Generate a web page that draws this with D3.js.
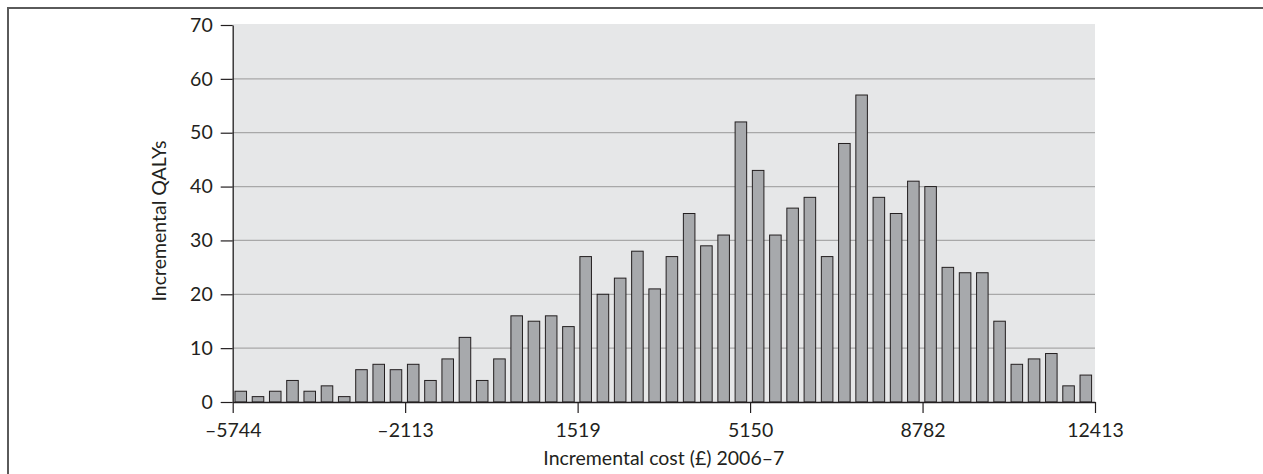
<!DOCTYPE html>
<html><head><meta charset="utf-8">
<script src="https://cdn.jsdelivr.net/npm/d3@7"></script>
<style>html,body{margin:0;padding:0;background:#fff;}svg{display:block;}</style>
</head><body>
<svg id="chart" width="1263" height="474"></svg>
<script>
const values = [2,1,2,4,2,3,1,6,7,6,7,4,8,12,4,8,16,15,16,14,27,20,23,28,21,27,35,29,31,52,43,31,36,38,27,48,57,38,35,41,40,25,24,24,15,7,8,9,3,5];
const bins = d3.range(values.length);
const xTickValues = [-5744,-2113,1519,5150,8782,12413];
const yTickValues = [0,10,20,30,40,50,60,70];
const xTitle = "Incremental cost (£) 2006–7";
const yTitle = "Incremental QALYs";

const W = 1263, H = 474;
const m = {left: 232.7, right: 168, top: 25, bottom: 72};
const svg = d3.select("#chart");
const font = "Lato, 'Open Sans', sans-serif";
const fs = 19.5;

// frame
svg.append("line").attr("x1",8).attr("x2",W).attr("y1",8).attr("y2",8).attr("stroke","#5a5a5a").attr("stroke-width",2);
svg.append("line").attr("x1",8).attr("x2",8).attr("y1",7).attr("y2",H).attr("stroke","#5a5a5a").attr("stroke-width",2);

const x0 = m.left, x1 = W - m.right, y0 = H - m.bottom, y1 = m.top;
const xLin = d3.scaleLinear().domain([xTickValues[0], xTickValues[xTickValues.length-1]]).range([x0, x1]);
const xBand = d3.scaleBand().domain(bins).range([x0, x1]).paddingInner(0.33).paddingOuter(0.165).align(0.4);
const y = d3.scaleLinear().domain([0,70]).range([y0, y1]);

// background
svg.append("rect").attr("x",x0).attr("y",y1-1).attr("width",x1-x0).attr("height",y0-y1+1).attr("fill","#e6e7e8");

// gridlines
svg.append("g").selectAll("line").data(yTickValues.filter(d=>d>0 && d<70)).join("line")
  .attr("x1",x0).attr("x2",x1).attr("y1",d=>y(d)).attr("y2",d=>y(d))
  .attr("stroke","#a8a8a8").attr("stroke-width",1.2);

// bars
svg.append("g").selectAll("rect").data(values).join("rect")
  .attr("x",(d,i)=>xBand(i)).attr("width",xBand.bandwidth())
  .attr("y",d=>y(d)).attr("height",d=>y0-y(d))
  .attr("fill","#a7a9ac").attr("stroke","#231f20").attr("stroke-width",1);

// y axis
const yAxis = svg.append("g").attr("transform",`translate(${x0},0)`)
  .call(d3.axisLeft(y).tickValues(yTickValues).tickSize(12).tickPadding(8).tickSizeOuter(0));
yAxis.select(".domain").attr("stroke","#231f20").attr("stroke-width",1.3);
yAxis.selectAll(".tick line").attr("stroke","#231f20").attr("stroke-width",1.2);
yAxis.selectAll("text").attr("font-family",font).attr("font-size",fs).attr("fill","#231f20");

// x axis
const xAxis = svg.append("g").attr("transform",`translate(0,${y0})`)
  .call(d3.axisBottom(xLin).tickValues(xTickValues).tickSize(11).tickPadding(10).tickSizeOuter(0)
    .tickFormat(d => (d<0 ? "–" + Math.abs(d) : String(d))));
xAxis.select(".domain").attr("stroke","#231f20").attr("stroke-width",1.3);
xAxis.selectAll(".tick line").attr("stroke","#231f20").attr("stroke-width",1.2);
xAxis.selectAll("text").attr("font-family",font).attr("font-size",fs).attr("fill","#231f20");

// titles
svg.append("text").attr("x",(x0+x1)/2).attr("y",465).attr("text-anchor","middle")
  .attr("font-family",font).attr("font-size",fs).attr("fill","#231f20").text(xTitle);
svg.append("text").attr("transform","translate(166,221) rotate(-90)").attr("text-anchor","middle")
  .attr("font-family",font).attr("font-size",fs).attr("fill","#231f20").text(yTitle);
</script>
</body></html>
